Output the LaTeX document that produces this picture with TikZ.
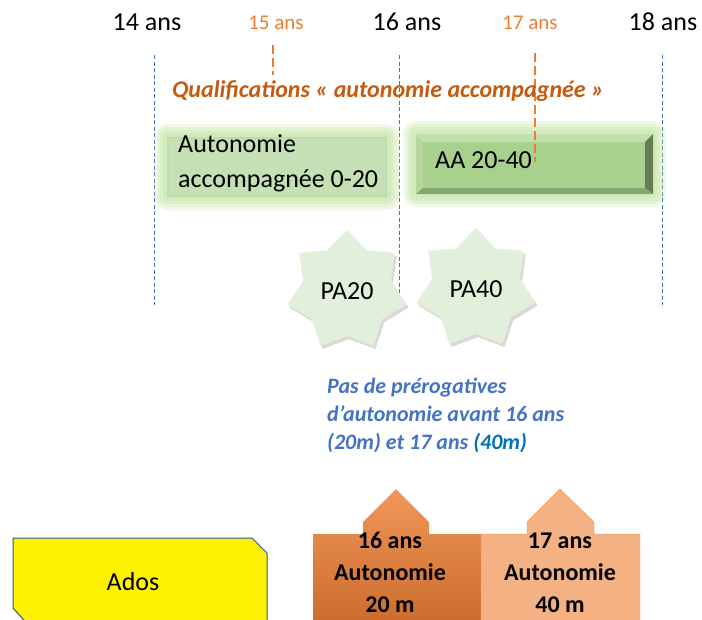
\documentclass[tikz,border=0pt]{standalone}
\usepackage{fontspec}
\setmainfont{Carlito}
\usetikzlibrary{shapes.geometric,shadows}

\definecolor{guideblue}{HTML}{4472C4}
\definecolor{darkblue}{HTML}{0070C0}
\definecolor{agemid}{HTML}{ED7D31}
\definecolor{titleorange}{HTML}{C55A11}
\definecolor{glowgreen}{HTML}{B5DE8C}
\definecolor{lightgreen}{HTML}{C5E0B4}
\definecolor{midgreen}{HTML}{A9D18E}
\definecolor{starfill}{HTML}{E2EFDA}
\definecolor{adosline}{HTML}{2F528F}
\definecolor{peach}{HTML}{F4B183}

\begin{document}
\begin{tikzpicture}[x=1pt,y=-1pt,
  agelabel/.style={font=\fontsize{26}{30}\selectfont,anchor=base},
  agesmall/.style={font=\fontsize{21}{25}\selectfont,anchor=base,text=agemid},
  guide/.style={draw=guideblue,dash pattern=on 4pt off 2.5pt,line width=0.8pt},
  agetick/.style={draw=agemid,dash pattern=on 9pt off 4pt,line width=2.6pt},
  glow/.style={fill=glowgreen,opacity=0.2},
  boxtext/.style={font=\fontsize{26}{35}\selectfont,anchor=base west,inner sep=0pt,align=left},
  pastar/.style={star,star points=7,star point ratio=1.35,minimum size=122pt,inner sep=0pt,
    fill=starfill,font=\fontsize{26}{30}\selectfont,
    drop shadow={opacity=0.3,shadow xshift=2pt,shadow yshift=-3pt}},
  permis/.style={font=\fontsize{24}{32}\selectfont\bfseries,align=center,anchor=base,inner sep=0pt}]

\useasboundingbox (0,0) rectangle (702,619);
\clip (0,0) rectangle (702,619);

% ages
\node[agelabel] (a14) at (147,30) {14 ans};
\node[agesmall] (a15) at (276,29) {15 ans};
\node[agelabel] (a16) at (407,30) {16 ans};
\node[agesmall] (a17) at (530,29) {17 ans};
\node[agelabel] (a18) at (663,30) {18 ans};

\foreach \x in {154,399,662}{
\draw[guide] (\x,55) -- (\x,305);}

% glow
\foreach \g in {13,10,7,4}{
\fill[glow,rounded corners=\g pt] ({167-\g},{137-\g}) rectangle ({387+\g},{197+\g});
\fill[glow,rounded corners=\g pt] ({416-\g},{134-\g}) rectangle ({653+\g},{194+\g});}

% aa 0-20
\fill[lightgreen!90!black!25!lightgreen] (167,137) rectangle (387,197);
\fill[lightgreen] (169,139) rectangle (385,195);
\node[boxtext] (aa0) at (178,187) {Autonomie\\accompagnée 0-20};

% aa 20-40
\fill[midgreen] (416,134) rectangle (653,194);
\fill[midgreen!70!white] (416,134) -- (653,134) -- (645,142) -- (423,142) -- cycle;
\fill[midgreen!85!white] (416,134) -- (423,142) -- (423,188) -- (416,194) -- cycle;
\fill[midgreen!60!black] (653,134) -- (653,194) -- (645,188) -- (645,142) -- cycle;
\fill[midgreen!80!black] (416,194) -- (653,194) -- (645,188) -- (423,188) -- cycle;
\node[boxtext] (aa20) at (435,168) {AA 20-40};

\draw[agetick] (273,45) -- (273,75);
\draw[agetick] (535,53) -- (535,162);

\node[font=\fontsize{24}{28}\selectfont\bfseries\itshape,text=titleorange,anchor=base west,inner sep=0pt]
  (quali) at (172,97) {Qualifications « autonomie accompagnée »};

% etoiles
\node[pastar] (pa20) at (347,291) {PA20};
\node[pastar] (pa40) at (476,289) {PA40};

\node[font=\fontsize{22}{28}\selectfont\bfseries\itshape,text=guideblue,anchor=base west,align=left,inner sep=0pt]
  (pas) at (327,449) {Pas de prérogatives\\d’autonomie avant 16 ans\\(20m) et 17 ans {\color{darkblue}(40m)}};

% ados
\draw[fill=yellow,draw=adosline,line width=1pt] (13,538) -- (252,538) -- (267,553) -- (267,630) -- (33,630) -- (13,608) -- cycle;
\node[font=\fontsize{26}{30}\selectfont,anchor=base] (ados) at (133,590) {Ados};

% 16 / 17 ans
\shade[top color=agemid!80!white,bottom color=agemid!85!black] (313,630) -- (313,534) -- (363,534) -- (363,522) -- (396,489)
  -- (429,522) -- (429,534) -- (481,534) -- (481,630) -- cycle;
\draw[fill=peach,draw=agemid!80!white] (481,630) -- (481,534) -- (527,534) -- (527,522) -- (560,489)
  -- (594,522) -- (594,534) -- (640,534) -- (640,630);
\node[permis] (p16) at (390,612) {16 ans\\Autonomie\\20 m};
\node[permis] (p17) at (560,612) {17 ans\\Autonomie\\40 m};

\end{tikzpicture}
\end{document}
